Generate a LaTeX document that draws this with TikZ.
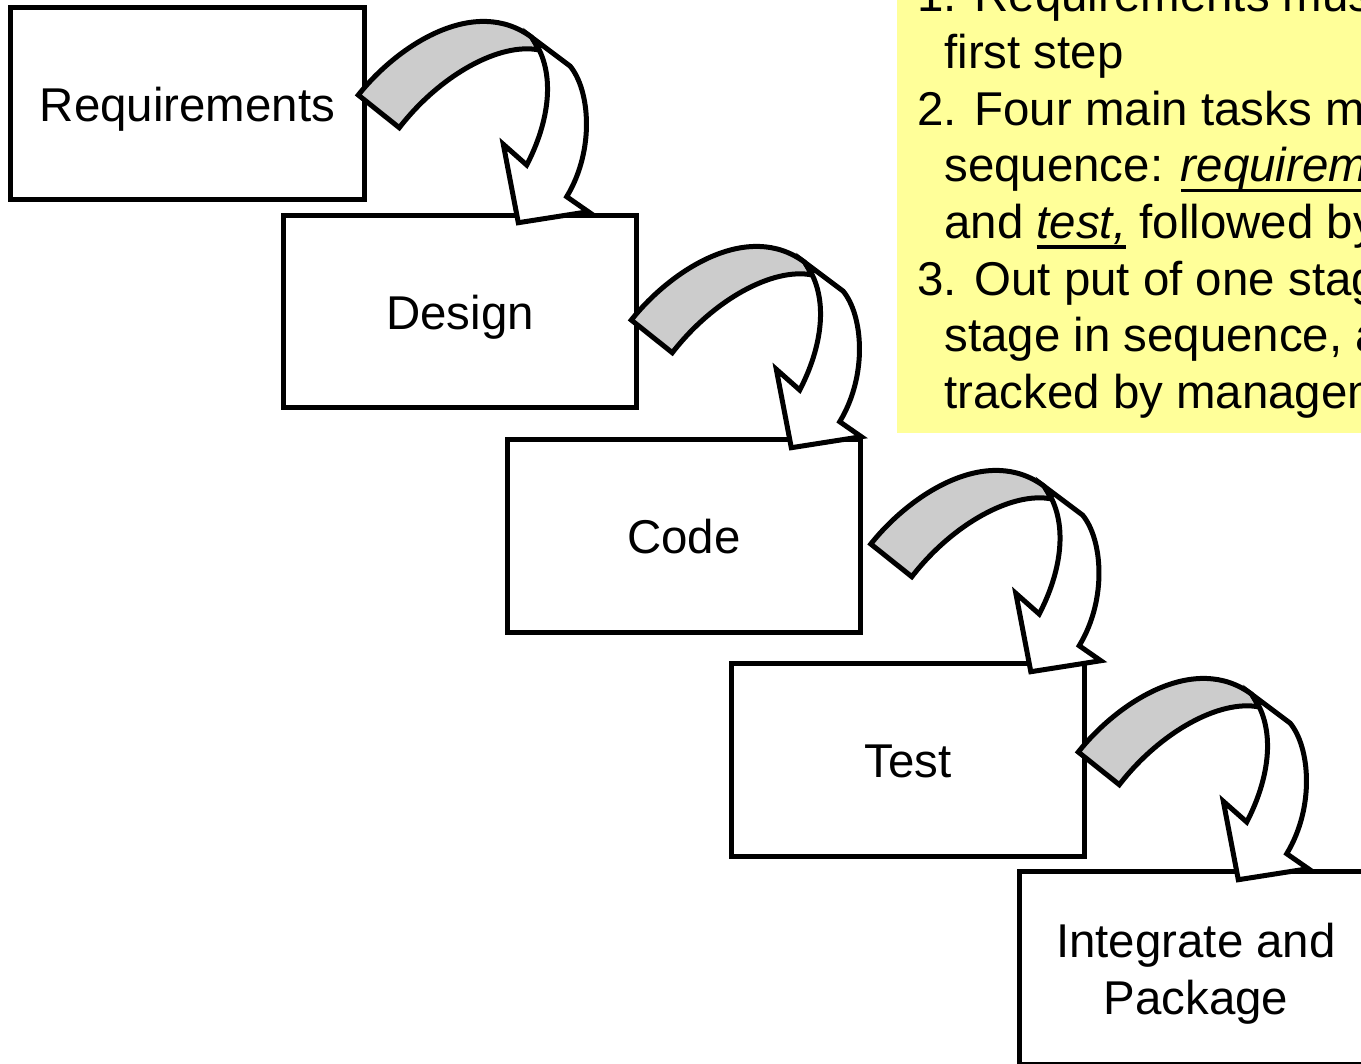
\documentclass[tikz,border=0pt]{standalone}
\usepackage{fontspec}
\setmainfont{Liberation Sans}
\usetikzlibrary{positioning}
\definecolor{noteyellow}{RGB}{255,255,153}
\definecolor{backgray}{RGB}{204,204,204}
\newsavebox\ulbox
\newcommand{\ulit}[1]{\sbox\ulbox{\textit{#1}}\rlap{\rule[-0.22em]{\wd\ulbox}{0.07em}}\usebox\ulbox}

\begin{document}
\begin{tikzpicture}[x=0.02cm, y=-0.02cm,
      stage/.style={draw, line width=0.1cm, fill=white, minimum width=7.08cm, minimum height=3.86cm,
                    align=center, text height=24.3pt, text depth=3.5pt, font=\fontsize{27}{32.4}\selectfont},
      note/.style={anchor=base west, inner sep=0pt, font=\fontsize{27}{32.4}\selectfont},
      back/.style={draw, line width=0.1cm, fill=backgray},
      front/.style={draw, line width=0.1cm, fill=white}]
    \useasboundingbox (0,0) rectangle (1361,1063);
    \clip (0,0) rectangle (1361,1063);

    % note on the right
    \fill[noteyellow] (897,-20) rectangle (1420,433);
    \node[note] (l1) at (917,11.6) {1. Requirements must be the};
    \node[note] (l2) at (944,68.3) {first step};
    \node[note] (l3) at (917,125) {2. Four main tasks must be};
    \node[note] (l4) at (944,181.7) {sequence: \ulit{requirements,}};
    \node[note] (l5) at (944,238.3) {and \ulit{test,} followed by};
    \node[note] (l6) at (917,295) {3. Out put of one stage};
    \node[note] (l7) at (944,351.7) {stage in sequence, and};
    \node[note] (l8) at (944,408.3) {tracked by management};

    % stages
    \node[stage] (req) at (187.5,103.5) {Requirements};
    \node[stage] (design) at (460,311.5) {Design};
    \node[stage] (code) at (684,535.5) {Code};
    \node[stage] (test) at (908,759.5) {Test};
    \node[stage, text height=56.7pt] (integ) at (1196,967.5) {Integrate and\\Package};

    % curled arrows between the stages
    \foreach \dx/\dy in {0/0, 273/225, 512.5/449, 720/657} {
      \begin{scope}[shift={(\dx,\dy)}]
        \filldraw[back] (358.3,95) .. controls (398,45) and (475,-5) .. (531.7,37.3)
          -- (539.3,50) .. controls (500,42) and (440,75) .. (399.3,127.7) -- cycle;
        \filldraw[front] (531.7,37.3) -- (570,66) .. controls (590,90) and (595,150) .. (566.7,196.7)
          -- (588.3,211.7) -- (518.3,222.7) -- (503.3,144.3) -- (526.7,165)
          .. controls (545,130) and (556,85) .. (539.3,50) -- cycle;
      \end{scope}
    }
\end{tikzpicture}
\end{document}
